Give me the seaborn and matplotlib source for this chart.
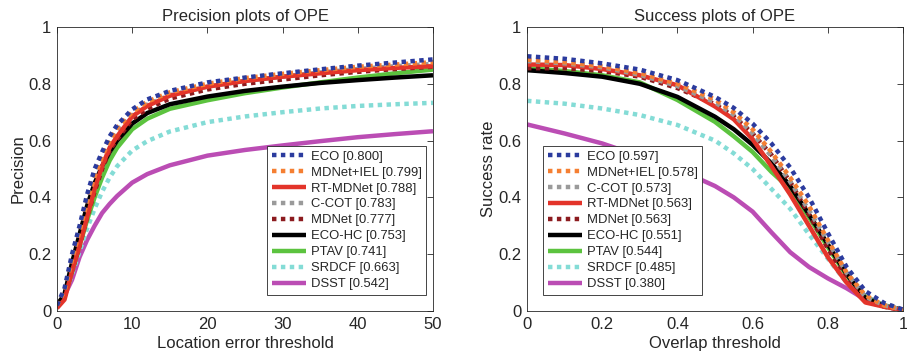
import numpy as np
import seaborn as sns
import matplotlib.pyplot as plt

sns.set_theme(style='white')
plt.rcParams['font.family'] = ['Liberation Sans', 'DejaVu Sans']

# tracker names, colours, styles
colors = {'ECO': '#2b3b9e', 'MDNet+IEL': '#f57f32', 'RT-MDNet': '#e3342a', 'C-COT': '#9a9a9a',
          'MDNet': '#8c1b1f', 'ECO-HC': '#000000', 'PTAV': '#5cc33f', 'SRDCF': '#84dcd6',
          'DSST': '#bb4db4'}
dotted = {'ECO', 'MDNet+IEL', 'C-COT', 'MDNet', 'SRDCF'}

# precision plot data
prec_x = [0, 1, 2, 3, 4, 5, 6, 7, 8, 10, 12, 15, 20, 25, 30, 35, 40, 45, 50]
prec_auc = {'ECO': 0.800, 'MDNet+IEL': 0.799, 'RT-MDNet': 0.788, 'C-COT': 0.783, 'MDNet': 0.777,
            'ECO-HC': 0.753, 'PTAV': 0.741, 'SRDCF': 0.663, 'DSST': 0.542}
prec = {
    'ECO':       [0.02, 0.08, 0.20, 0.30, 0.41, 0.50, 0.56, 0.615, 0.655, 0.71, 0.745, 0.775, 0.805, 0.822, 0.837, 0.851, 0.864, 0.875, 0.886],
    'MDNet+IEL': [0.02, 0.07, 0.18, 0.28, 0.385, 0.475, 0.545, 0.60, 0.645, 0.70, 0.737, 0.77, 0.80, 0.82, 0.835, 0.848, 0.86, 0.868, 0.876],
    'RT-MDNet':  [0.01, 0.04, 0.14, 0.23, 0.33, 0.43, 0.51, 0.575, 0.615, 0.685, 0.722, 0.758, 0.79, 0.81, 0.825, 0.837, 0.848, 0.856, 0.862],
    'C-COT':     [0.02, 0.07, 0.18, 0.28, 0.38, 0.47, 0.54, 0.59, 0.635, 0.69, 0.727, 0.76, 0.79, 0.81, 0.825, 0.84, 0.852, 0.862, 0.87],
    'MDNet':     [0.02, 0.05, 0.14, 0.23, 0.33, 0.42, 0.50, 0.565, 0.605, 0.675, 0.712, 0.748, 0.78, 0.80, 0.815, 0.83, 0.842, 0.852, 0.86],
    'ECO-HC':    [0.02, 0.06, 0.17, 0.27, 0.37, 0.45, 0.51, 0.56, 0.60, 0.66, 0.697, 0.728, 0.755, 0.775, 0.79, 0.803, 0.813, 0.822, 0.83],
    'PTAV':      [0.02, 0.05, 0.14, 0.23, 0.32, 0.40, 0.47, 0.53, 0.575, 0.64, 0.677, 0.712, 0.742, 0.767, 0.787, 0.805, 0.822, 0.837, 0.85],
    'SRDCF':     [0.02, 0.05, 0.13, 0.21, 0.29, 0.36, 0.42, 0.47, 0.51, 0.565, 0.598, 0.632, 0.665, 0.685, 0.70, 0.713, 0.722, 0.728, 0.733],
    'DSST':      [0.02, 0.055, 0.11, 0.19, 0.25, 0.30, 0.345, 0.377, 0.405, 0.452, 0.482, 0.513, 0.547, 0.567, 0.583, 0.598, 0.612, 0.623, 0.633],
}
prec_order = ['ECO', 'MDNet+IEL', 'RT-MDNet', 'C-COT', 'MDNet', 'ECO-HC', 'PTAV', 'SRDCF', 'DSST']

# success plot data
succ_x = [0, 0.1, 0.2, 0.3, 0.4, 0.5, 0.55, 0.6, 0.65, 0.7, 0.75, 0.8, 0.85, 0.9, 0.95, 1.0]
succ_auc = {'ECO': 0.597, 'MDNet+IEL': 0.578, 'C-COT': 0.573, 'RT-MDNet': 0.563, 'MDNet': 0.563,
            'ECO-HC': 0.551, 'PTAV': 0.544, 'SRDCF': 0.485, 'DSST': 0.380}
succ = {
    'ECO':       [0.897, 0.888, 0.872, 0.85, 0.813, 0.754, 0.715, 0.66, 0.59, 0.505, 0.40, 0.275, 0.155, 0.07, 0.028, 0.005],
    'MDNet+IEL': [0.885, 0.876, 0.862, 0.838, 0.80, 0.745, 0.70, 0.64, 0.56, 0.47, 0.37, 0.25, 0.135, 0.055, 0.02, 0.004],
    'C-COT':     [0.88, 0.872, 0.858, 0.832, 0.792, 0.735, 0.69, 0.625, 0.545, 0.455, 0.355, 0.245, 0.135, 0.05, 0.02, 0.004],
    'RT-MDNet':  [0.868, 0.866, 0.852, 0.83, 0.795, 0.72, 0.675, 0.605, 0.51, 0.41, 0.30, 0.19, 0.10, 0.03, 0.015, 0.003],
    'MDNet':     [0.855, 0.855, 0.845, 0.825, 0.785, 0.728, 0.685, 0.625, 0.55, 0.455, 0.34, 0.22, 0.11, 0.035, 0.015, 0.003],
    'ECO-HC':    [0.848, 0.838, 0.825, 0.80, 0.754, 0.684, 0.64, 0.585, 0.52, 0.44, 0.34, 0.235, 0.13, 0.045, 0.018, 0.003],
    'PTAV':      [0.855, 0.845, 0.83, 0.805, 0.743, 0.666, 0.615, 0.56, 0.49, 0.43, 0.33, 0.225, 0.125, 0.05, 0.02, 0.004],
    'SRDCF':     [0.74, 0.73, 0.713, 0.69, 0.655, 0.60, 0.555, 0.50, 0.43, 0.36, 0.27, 0.185, 0.10, 0.045, 0.015, 0.003],
    'DSST':      [0.657, 0.625, 0.59, 0.545, 0.50, 0.44, 0.40, 0.35, 0.277, 0.207, 0.155, 0.115, 0.08, 0.04, 0.018, 0.005],
}
succ_order = ['ECO', 'MDNet+IEL', 'C-COT', 'RT-MDNet', 'MDNet', 'ECO-HC', 'PTAV', 'SRDCF', 'DSST']

fig = plt.figure(figsize=(9.07, 3.63), dpi=100)
ax1 = fig.add_axes([57 / 907, 52 / 363, 376 / 907, 284 / 363])
ax2 = fig.add_axes([527 / 907, 52 / 363, 376 / 907, 284 / 363])


def draw(ax, xs, data, auc, order):
    # draw in reverse so the top trackers sit on top
    for name in order[::-1]:
        ls = (0, (1, 1)) if name in dotted else '-'
        sns.lineplot(x=xs, y=data[name], ax=ax, color=colors[name], linestyle=ls,
                     linewidth=3.2, label='%s [%.3f]' % (name, auc[name]))
    for line in ax.get_lines():
        line.set_dash_capstyle('butt')
        line.set_solid_capstyle('butt')
    handles, labels = ax.get_legend_handles_labels()
    return handles[::-1], labels[::-1]


h1, l1 = draw(ax1, prec_x, prec, prec_auc, prec_order)
h2, l2 = draw(ax2, succ_x, succ, succ_auc, succ_order)

for ax in (ax1, ax2):
    ax.set_ylim(0, 1)
    ax.set_yticks([0, 0.2, 0.4, 0.6, 0.8, 1])
    ax.set_yticklabels(['0', '0.2', '0.4', '0.6', '0.8', '1'])
    ax.tick_params(direction='in', length=4, width=0.6, colors='#262626', labelsize=12,
                   top=True, right=True, pad=4)
    for sp in ax.spines.values():
        sp.set_color('#262626')
        sp.set_linewidth(0.6)

ax1.set_xlim(0, 50)
ax1.set_xticks([0, 10, 20, 30, 40, 50])
ax2.set_xlim(0, 1)
ax2.set_xticks([0, 0.2, 0.4, 0.6, 0.8, 1])
ax2.set_xticklabels(['0', '0.2', '0.4', '0.6', '0.8', '1'])

ax1.set_title('Precision plots of OPE', fontsize=12, pad=4)
ax2.set_title('Success plots of OPE', fontsize=12, pad=4)
ax1.set_xlabel('Location error threshold', fontsize=12, labelpad=3)
ax1.set_ylabel('Precision', fontsize=12, labelpad=2)
ax2.set_xlabel('Overlap threshold', fontsize=12, labelpad=3)
ax2.set_ylabel('Success rate', fontsize=12, labelpad=2)

leg_kw = dict(fontsize=9.4, frameon=True, fancybox=False, framealpha=1, edgecolor='#262626',
              handlelength=2.6, handletextpad=0.4, borderpad=0.35, labelspacing=0.29,
              borderaxespad=0)
lg1 = ax1.legend(h1, l1, loc='upper left', bbox_to_anchor=(210 / 376, 165 / 284), **leg_kw)
lg2 = ax2.legend(h2, l2, loc='upper left', bbox_to_anchor=(16 / 376, 165 / 284), **leg_kw)
for lg in (lg1, lg2):
    lg.get_frame().set_linewidth(0.6)

fig.savefig('out.png', dpi=100)
